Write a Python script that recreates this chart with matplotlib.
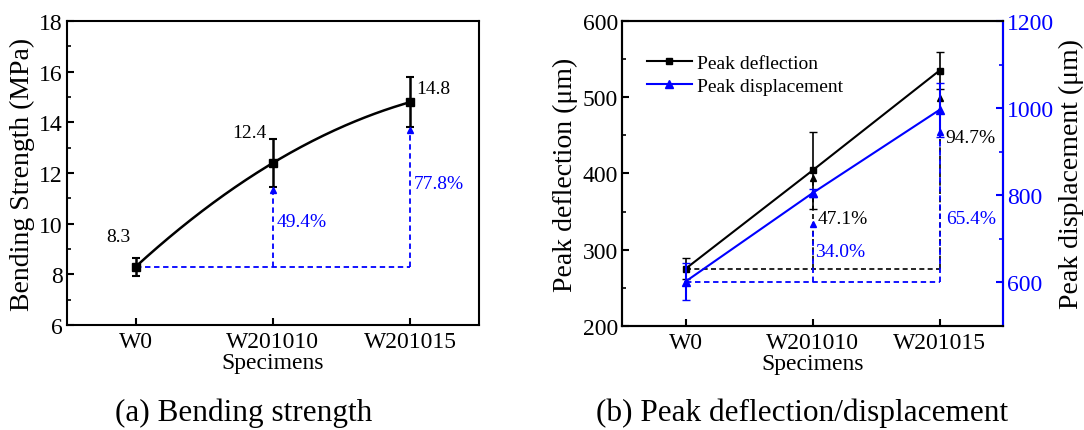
import matplotlib.pyplot as plt
import numpy as np

plt.rcParams['font.family'] = ['Liberation Serif', 'DejaVu Serif']
plt.rcParams['mathtext.fontset'] = 'stix'

# data
specimens = ['W0', 'W201010', 'W201015']
strength = [8.3, 12.4, 14.8]
strength_err = [0.35, 0.95, 1.0]
strength_pct = ['49.4%', '77.8%']

deflection = [275, 404, 535]
deflection_err = [14, 50, 24]
deflection_pct = ['47.1%', '94.7%']

displacement = [602, 805, 996]
displacement_err = [43, 10, 62]
displacement_pct = ['34.0%', '65.4%']

BLUE = '#0000ff'
x = np.arange(1, len(specimens) + 1)
dash = (0, (3, 2))
TICK = 17
LAB = 20
XLAB = 17

fig = plt.figure(figsize=(10.84, 4.31), dpi=100)

# ---- (a) bending strength
ax1 = fig.add_axes([0.0618, 0.2436, 0.380, 0.7053])
c = np.polyfit(x, strength, 2)
xs = np.linspace(x[0], x[-1], 200)
ax1.plot(xs, np.polyval(c, xs), color='black', lw=1.8)
ax1.errorbar(x, strength, yerr=strength_err, fmt='s', color='black', ms=6,
             capsize=3, elinewidth=1.8, capthick=1.5)

base = strength[0]
ax1.plot([x[0], x[-1]], [base, base], color=BLUE, lw=1.3, ls=dash)
for i in (1, 2):
    top = strength[i] - strength_err[i]
    ax1.plot([x[i], x[i]], [base, top - 0.2], color=BLUE, lw=1.3, ls=dash)
    ax1.plot(x[i], top - 0.12, marker='^', color=BLUE, ms=4)

ax1.text(0.876, 9.51, '8.3', ha='center', va='center', fontsize=14)
ax1.text(1.83, 13.58, '12.4', ha='center', va='center', fontsize=14)
ax1.text(3.17, 15.32, '14.8', ha='center', va='center', fontsize=14)
ax1.text(2.21, 10.1, strength_pct[0], ha='center', va='center', fontsize=14, color=BLUE)
ax1.text(3.21, 11.6, strength_pct[1], ha='center', va='center', fontsize=14, color=BLUE)

ax1.set_xlim(0.5, 3.5)
ax1.set_ylim(6, 18)
ax1.set_yticks(np.arange(6, 19, 2))
ax1.set_yticks(np.arange(7, 18, 2), minor=True)
ax1.set_xticks(x)
ax1.set_xticklabels(specimens)
ax1.set_xlabel('Specimens', fontsize=XLAB, labelpad=0)
ax1.set_ylabel('Bending Strength (MPa)', fontsize=LAB, labelpad=3)
ax1.tick_params(direction='in', labelsize=TICK, width=1.5, length=5)
ax1.tick_params(which='minor', direction='in', width=1.2, length=3)
ax1.tick_params(axis='x', pad=4)
ax1.tick_params(axis='y', pad=3)
for s in ax1.spines.values():
    s.set_linewidth(1.5)

# ---- (b) peak deflection / displacement
ax2 = fig.add_axes([0.5738, 0.2413, 0.3515, 0.7077])
ax3 = ax2.twinx()

l1, = ax2.plot(x, deflection, color='black', lw=1.5, marker='s', ms=5,
               label='Peak deflection')
ax2.errorbar(x, deflection, yerr=deflection_err, fmt='none', ecolor='black',
             capsize=3, elinewidth=1.2)
l2, = ax3.plot(x, displacement, color=BLUE, lw=1.5, marker='^', ms=6,
               label='Peak displacement')
ax3.errorbar(x, displacement, yerr=displacement_err, fmt='none', ecolor=BLUE,
             capsize=3, elinewidth=1.5)

b = deflection[0]
ax2.plot([x[0], x[-1]], [b, b], color='black', lw=1.2, ls=dash)
for xi, top in zip(x[1:], [398, 503]):
    ax2.plot([xi, xi], [b, top - 6], color='black', lw=1.2, ls=dash)
    ax2.plot(xi, top - 4, marker='^', color='black', ms=4)

b = displacement[0]
ax3.plot([x[0], x[-1]], [b, b], color=BLUE, lw=1.3, ls=dash)
for xi, top in zip(x[1:], [740, 952]):
    ax3.plot([xi, xi], [b, top - 10], color=BLUE, lw=1.3, ls=dash)
    ax3.plot(xi, top - 7, marker='^', color=BLUE, ms=4)

ax2.text(2.24, 341.6, deflection_pct[0], ha='center', va='center', fontsize=14)
ax2.text(3.24, 446.6, deflection_pct[1], ha='center', va='center', fontsize=14)
ax2.text(2.22, 298, displacement_pct[0], ha='center', va='center', fontsize=14, color=BLUE)
ax2.text(3.25, 341.6, displacement_pct[1], ha='center', va='center', fontsize=14, color=BLUE)

ax2.legend(handles=[l1, l2], loc='upper left', bbox_to_anchor=(0.045, 0.915),
           frameon=False, fontsize=14, handlelength=2.3, borderaxespad=0,
           handletextpad=0.3, labelspacing=0.25)

ax2.set_xlim(0.5, 3.5)
ax2.set_ylim(200, 600)
ax2.set_yticks(np.arange(200, 601, 100))
ax2.set_yticks(np.arange(250, 600, 100), minor=True)
ax2.set_xticks(x)
ax2.set_xticklabels(specimens)
ax2.set_xlabel('Specimens', fontsize=XLAB, labelpad=0)
ax2.set_ylabel('Peak deflection (\u03bcm)', fontsize=LAB, labelpad=3)
ax2.tick_params(direction='in', labelsize=TICK, width=1.5, length=5)
ax2.tick_params(which='minor', direction='in', width=1.2, length=3)
ax2.tick_params(axis='x', pad=4)
ax2.tick_params(axis='y', pad=3)

ax3.set_ylim(500, 1200)
ax3.set_yticks(np.arange(600, 1201, 200))
ax3.set_yticks(np.arange(700, 1200, 200), minor=True)
ax3.set_ylabel('Peak displacement (\u03bcm)', fontsize=LAB, labelpad=3)
ax3.tick_params(direction='in', labelsize=TICK, width=1.5, length=5, colors=BLUE, pad=3)
ax3.tick_params(which='minor', direction='in', width=1.2, length=3, colors=BLUE)
for ax in (ax2, ax3):
    for s in ax.spines.values():
        s.set_linewidth(1.5)
ax3.spines['right'].set_color(BLUE)

fig.text(0.225, 0.042, '(a) Bending strength', ha='center', va='center', fontsize=22.5)
fig.text(0.740, 0.042, '(b) Peak deflection/displacement', ha='center', va='center', fontsize=22.5)

fig.savefig('out.png', dpi=100)
